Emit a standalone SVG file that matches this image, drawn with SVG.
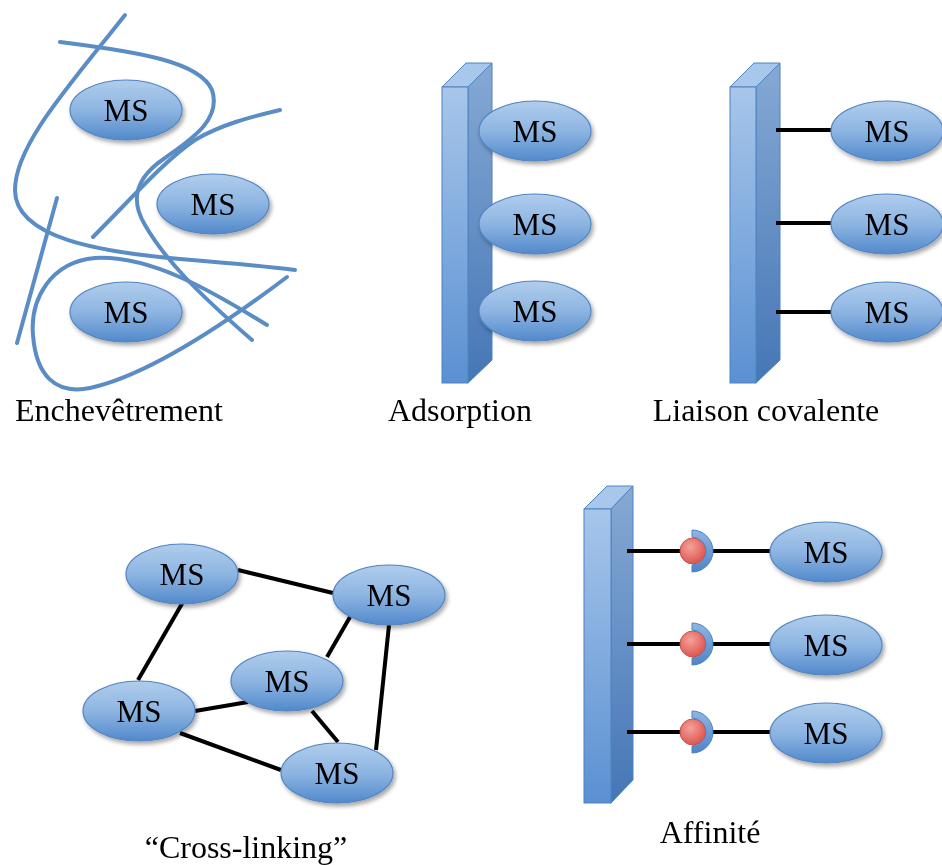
<svg xmlns="http://www.w3.org/2000/svg" width="942" height="865" viewBox="0 0 942 865">
<defs>
<linearGradient id="gEll" x1="0" y1="0" x2="0" y2="1">
<stop offset="0" stop-color="#b0cdec"/>
<stop offset="0.5" stop-color="#8db5e2"/>
<stop offset="1" stop-color="#5289cb"/>
</linearGradient>
<linearGradient id="gFront" x1="0" y1="0" x2="0" y2="1">
<stop offset="0" stop-color="#a7c6ea"/>
<stop offset="1" stop-color="#5a90d2"/>
</linearGradient>
<linearGradient id="gSide" x1="0" y1="0" x2="0" y2="1">
<stop offset="0" stop-color="#86a9d4"/>
<stop offset="1" stop-color="#4576b6"/>
</linearGradient>
<linearGradient id="gCup" x1="0" y1="0" x2="0" y2="1">
<stop offset="0" stop-color="#8fb5e4"/>
<stop offset="1" stop-color="#4f84c8"/>
</linearGradient>
<radialGradient id="gBall" cx="0.4" cy="0.35" r="0.7">
<stop offset="0" stop-color="#f6a19b"/>
<stop offset="1" stop-color="#d9504a"/>
</radialGradient>
<filter id="sh" x="-20%" y="-20%" width="150%" height="160%">
<feDropShadow dx="2" dy="3" stdDeviation="2" flood-color="#000" flood-opacity="0.35"/>
</filter>
<ellipse id="ell" cx="0" cy="0" rx="56" ry="30" fill="url(#gEll)" stroke="#5284c2" stroke-width="1.2"/>
</defs>
<rect width="942" height="865" fill="#fff"/>
<g id="fibers" fill="none" stroke="#5a8dc6" stroke-width="4" stroke-linecap="round">
<path d="M125,15 C70,85 15,145 15,190 C15,238 100,252 180,259 C230,263 270,267 295,270"/>
<path d="M60,42 C140,52 200,62 212,90 C222,120 190,140 165,158 C135,178 130,200 145,225 C165,260 200,295 252,340"/>
<path d="M93,237 C130,200 165,160 195,140 C220,125 250,117 280,110"/>
<path d="M57,198 L17,343"/>
<path d="M267,325 C210,290 150,255 95,258 C50,262 30,300 33,335 C36,375 55,395 90,388 C150,375 230,320 287,277"/>
</g>
<g id="bars" stroke="#4f82c0" stroke-width="1">
<g id="ads-bar">
<polygon fill="#a9c7ea" points="442,87 466,63 492,63 468,87"/>
<polygon fill="url(#gSide)" points="468,87 492,63 492,360 468,383"/>
<rect fill="url(#gFront)" x="442" y="87" width="26" height="296"/>
</g>
<g id="cov-bar">
<polygon fill="#a9c7ea" points="730,87 754,63 780,63 756,87"/>
<polygon fill="url(#gSide)" points="756,87 780,63 780,360 756,383"/>
<rect fill="url(#gFront)" x="730" y="87" width="26" height="296"/>
</g>
<g id="aff-bar">
<polygon fill="#a9c7ea" points="584,509 607,486 633,486 611,509"/>
<polygon fill="url(#gSide)" points="611,509 633,486 633,780 611,803"/>
<rect fill="url(#gFront)" x="584" y="509" width="27" height="294"/>
</g>
</g>
<g id="connectors" stroke="#000" stroke-width="4" fill="none">
<line x1="776" y1="130" x2="833" y2="130"/>
<line x1="776" y1="223" x2="833" y2="223"/>
<line x1="776" y1="312" x2="833" y2="312"/>
<line x1="238" y1="570" x2="333" y2="593"/>
<line x1="183" y1="602" x2="138" y2="680"/>
<line x1="350" y1="617" x2="327" y2="657"/>
<line x1="389" y1="625" x2="376" y2="750"/>
<line x1="195" y1="711" x2="248" y2="702"/>
<line x1="312" y1="711" x2="338" y2="742"/>
<line x1="180" y1="733" x2="281" y2="770"/>
<line x1="627" y1="551" x2="771" y2="551"/>
<line x1="627" y1="644" x2="771" y2="644"/>
<line x1="627" y1="732" x2="771" y2="732"/>
</g>
<g id="ligands" stroke-width="1">
<g id="aff-lig1"><circle fill="url(#gBall)" stroke="#c9504a" cx="693" cy="551" r="13"/><path fill="url(#gCup)" stroke="#4f82c0" d="M692,530 A21,21 0 0 1 692,572 L692,565 A14,14 0 0 0 692,537 Z"/></g>
<g id="aff-lig2"><circle fill="url(#gBall)" stroke="#c9504a" cx="693" cy="644" r="13"/><path fill="url(#gCup)" stroke="#4f82c0" d="M692,623 A21,21 0 0 1 692,665 L692,658 A14,14 0 0 0 692,630 Z"/></g>
<g id="aff-lig3"><circle fill="url(#gBall)" stroke="#c9504a" cx="693" cy="732" r="13"/><path fill="url(#gCup)" stroke="#4f82c0" d="M692,711 A21,21 0 0 1 692,753 L692,746 A14,14 0 0 0 692,718 Z"/></g>
</g>
<g id="nodes" filter="url(#sh)">
<use id="ent-ms1" href="#ell" x="126" y="110"/>
<use id="ent-ms2" href="#ell" x="213" y="204"/>
<use id="ent-ms3" href="#ell" x="126" y="312"/>
<use id="ads-ms1" href="#ell" x="535" y="131"/>
<use id="ads-ms2" href="#ell" x="535" y="224"/>
<use id="ads-ms3" href="#ell" x="535" y="311"/>
<use id="cov-ms1" href="#ell" x="887" y="131"/>
<use id="cov-ms2" href="#ell" x="887" y="224"/>
<use id="cov-ms3" href="#ell" x="887" y="312"/>
<use id="cl-ms-a" href="#ell" x="182" y="574"/>
<use id="cl-ms-b" href="#ell" x="389" y="595"/>
<use id="cl-ms-c" href="#ell" x="287" y="681"/>
<use id="cl-ms-d" href="#ell" x="139" y="711"/>
<use id="cl-ms-e" href="#ell" x="337" y="773"/>
<use id="aff-ms1" href="#ell" x="826" y="552"/>
<use id="aff-ms2" href="#ell" x="826" y="645"/>
<use id="aff-ms3" href="#ell" x="826" y="733"/>
</g>
<g id="labels" font-family="Liberation Serif" font-size="31" fill="#000" text-anchor="middle">
<text x="126" y="121">MS</text>
<text x="213" y="215">MS</text>
<text x="126" y="323">MS</text>
<text x="535" y="142">MS</text>
<text x="535" y="235">MS</text>
<text x="535" y="322">MS</text>
<text x="887" y="142">MS</text>
<text x="887" y="235">MS</text>
<text x="887" y="323">MS</text>
<text x="182" y="585">MS</text>
<text x="389" y="606">MS</text>
<text x="287" y="692">MS</text>
<text x="139" y="722">MS</text>
<text x="337" y="784">MS</text>
<text x="826" y="563">MS</text>
<text x="826" y="656">MS</text>
<text x="826" y="744">MS</text>
<g font-size="32">
<text x="119" y="421">Enchevêtrement</text>
<text x="460" y="421">Adsorption</text>
<text x="766" y="421">Liaison covalente</text>
<text x="246" y="858">“Cross-linking”</text>
<text x="710" y="843">Affinité</text>
</g>
</g>
</svg>
